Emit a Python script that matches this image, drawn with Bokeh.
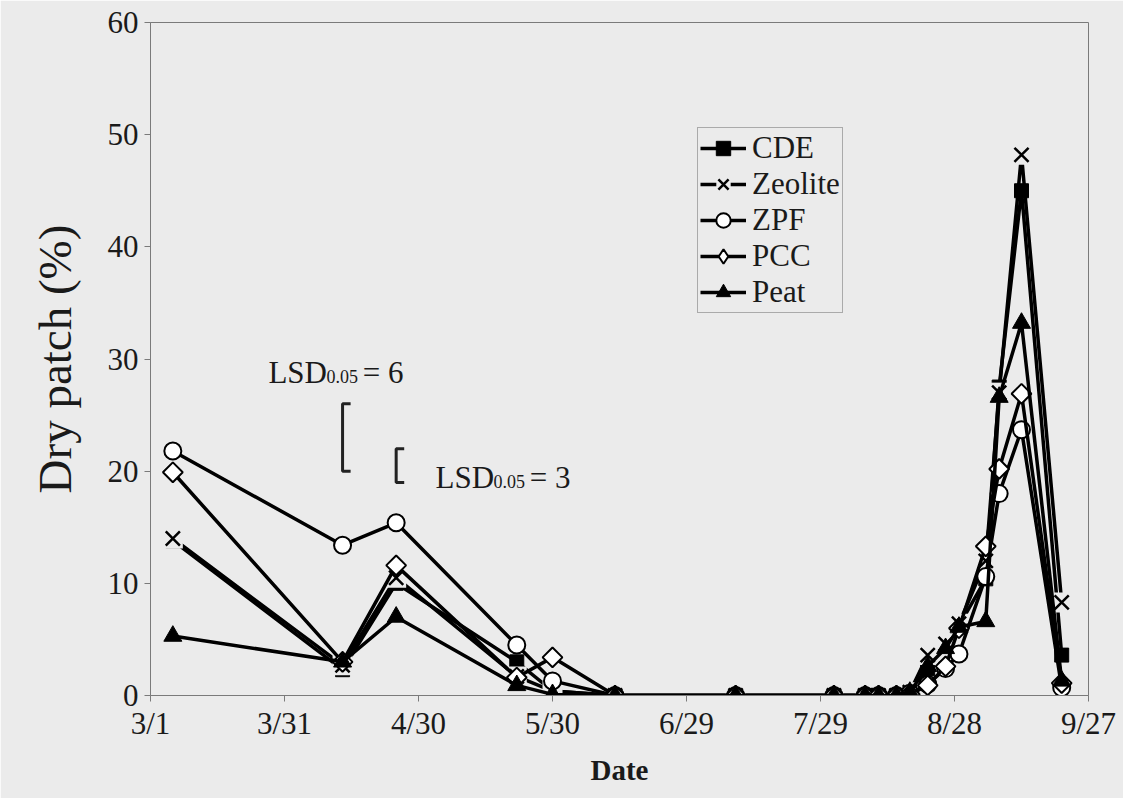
import math
import pandas as pd
from bokeh.plotting import figure
from bokeh.models import Legend, LegendItem, FixedTicker, Label, Range1d, Title
from bokeh.embed import file_html
from bokeh.resources import INLINE

# ---------------- data ----------------
dates = ["3/6", "4/13", "4/25", "5/22", "5/30", "6/13", "7/10", "8/1", "8/8", "8/11",
         "8/15", "8/18", "8/22", "8/26", "8/29", "9/4", "9/7", "9/12", "9/21"]
cde     = [13.8, 2.3, 10.0, 3.0, 0.4, 0, 0, 0, 0, 0, 0, 0.3, 2.4, 4.8, 6.2, 10.4, 27.5, 45.0, 3.6]
zeolite = [14.0, 2.7, 10.5, 1.7, 0.4, 0, 0, 0, 0, 0, 0, 0.3, 3.6, 4.6, 6.4, 12.0, 27.0, 48.2, 8.3]
zpf     = [21.8, 13.4, 15.4, 4.5, 1.3, 0, 0, 0, 0, 0, 0, 0.2, 1.0, 2.4, 3.7, 10.6, 18.0, 23.7, 0.7]
pcc     = [19.9, 3.0, 11.6, 1.6, 3.4, 0, 0, 0, 0, 0, 0, 0.1, 0.9, 2.6, 6.0, 13.3, 20.2, 26.9, 1.1]
peat    = [5.3, 3.0, 7.0, 0.9, 0.1, 0, 0, 0, 0, 0, 0, 0.3, 2.6, 4.2, 6.1, 6.6, 26.6, 33.2, 1.3]

tick_labels = ["3/1", "3/31", "4/30", "5/30", "6/29", "7/29", "8/28", "9/27"]
y_ticks = [0, 10, 20, 30, 40, 50, 60]

lsd_dates = ["4/13", "4/25"]
lsd_low = [20, 19]
lsd_values = [6, 3]

YEAR = "2003/"
origin = pd.Timestamp(YEAR + "3/1")


def day(s):
    return float((pd.Timestamp(YEAR + s) - origin).days)


x = [day(d) for d in dates]
tick_days = [day(t) for t in tick_labels]

# ---------------- style ----------------
BG = "#ebebeb"
FONT = "Liberation Serif"
INK = "#1a1a1a"

p = figure(width=1123, height=798, output_backend="svg", toolbar_location=None,
           x_range=Range1d(tick_days[0], tick_days[-1]), y_range=Range1d(0, 60),
           background_fill_color=BG, border_fill_color=BG,
           min_border_left=150, min_border_right=35, min_border_top=22, min_border_bottom=103)
p.grid.grid_line_color = None
p.outline_line_color = "#7a7a7a"
p.outline_line_width = 1

p.xaxis.ticker = FixedTicker(ticks=tick_days)
p.xaxis.major_label_overrides = {t: lab for t, lab in zip(tick_days, tick_labels)}
p.yaxis.ticker = FixedTicker(ticks=y_ticks)
for ax in (p.xaxis, p.yaxis):
    ax.axis_line_color = "#7a7a7a"
    ax.major_tick_line_color = "#7a7a7a"
    ax.minor_tick_line_color = None
    ax.major_tick_in = 0
    ax.major_tick_out = 6
    ax.major_label_text_font = FONT
    ax.major_label_text_font_size = "31px"
    ax.major_label_text_color = INK
    ax.axis_label_text_font = FONT
    ax.axis_label_text_color = INK
p.xaxis.major_label_standoff = 4
p.yaxis.major_label_standoff = 6

p.xaxis.axis_label = "Date"
p.xaxis.axis_label_text_font_style = "bold"
p.xaxis.axis_label_text_font_size = "29px"
p.xaxis.axis_label_standoff = 10

# y-axis title (slightly above centre, as in the original)
p.add_layout(Title(text="Dry patch (%)", align="center", offset=22, standoff=48,
                   text_font=FONT, text_font_size="47px", text_font_style="normal",
                   text_color=INK), "left")

LW = 3.5
items = []

# CDE
r1 = p.line(x, cde, line_color="black", line_width=LW)
m1 = p.scatter(x, cde, marker="square", size=14, fill_color="black", line_color="black")
items.append(LegendItem(label="CDE", renderers=[r1, m1]))

# Zeolite
r2 = p.line(x, zeolite, line_color="black", line_width=LW)
b2 = p.scatter(x, zeolite, marker="square", size=20, fill_color=BG, line_color=None)
m2 = p.scatter(x, zeolite, marker="x", size=20, line_color="black", line_width=2.5)
items.append(LegendItem(label="Zeolite", renderers=[r2, b2, m2]))

# ZPF
r3 = p.line(x, zpf, line_color="black", line_width=LW)
m3 = p.scatter(x, zpf, marker="circle", size=17, fill_color="white", line_color="black", line_width=2)
items.append(LegendItem(label="ZPF", renderers=[r3, m3]))

# PCC  (a diamond glyph underneath, used for the legend swatch, covered by the rhombus)
r4 = p.line(x, pcc, line_color="black", line_width=LW)
k4 = p.scatter(x, pcc, marker="diamond", size=18, fill_color="white", line_color="black", line_width=2)
m4 = p.scatter(x, pcc, marker="square", angle=math.pi / 4, size=14, fill_color="white",
               line_color="black", line_width=2)
items.append(LegendItem(label="PCC", renderers=[r4, k4]))

# Peat
r5 = p.line(x, peat, line_color="black", line_width=LW)
m5 = p.scatter(x, peat, marker="triangle", size=18, fill_color="black", line_color="black")
items.append(LegendItem(label="Peat", renderers=[r5, m5]))

legend = Legend(items=items, location=(547, 382),
                background_fill_color=BG, background_fill_alpha=1,
                border_line_color="#6a6a6a", border_line_width=1,
                label_text_font=FONT, label_text_font_size="31px", label_text_color=INK,
                glyph_width=46, glyph_height=36, label_height=36, label_standoff=6,
                spacing=0, padding=2, margin=0)
p.add_layout(legend, "center")

# LSD brackets
bw = 1.8
lx = [day(d) for d in lsd_dates]
xs = [[d + bw, d, d, d + bw] for d in lx]
ys = [[lo + v, lo + v, lo, lo] for lo, v in zip(lsd_low, lsd_values)]
p.multi_line(xs, ys, line_color="#222222", line_width=3)


# LSD labels (with subscript)
def lsd_label(x0, y0, val):
    p.add_layout(Label(x=x0, y=y0, text="LSD", text_font=FONT, text_font_size="31px",
                       text_color=INK, text_baseline="alphabetic"))
    p.add_layout(Label(x=x0 + 13.0, y=y0 - 0.35, text="0.05", text_font=FONT, text_font_size="18px",
                       text_color=INK, text_baseline="alphabetic"))
    p.add_layout(Label(x=x0 + 21.1, y=y0, text="= " + str(val), text_font=FONT, text_font_size="31px",
                       text_color=INK, text_baseline="alphabetic"))


lsd_label(26.4, 28.8, lsd_values[0])
lsd_label(63.8, 19.4, lsd_values[1])

open("out.html", "w").write(file_html(p, INLINE))
